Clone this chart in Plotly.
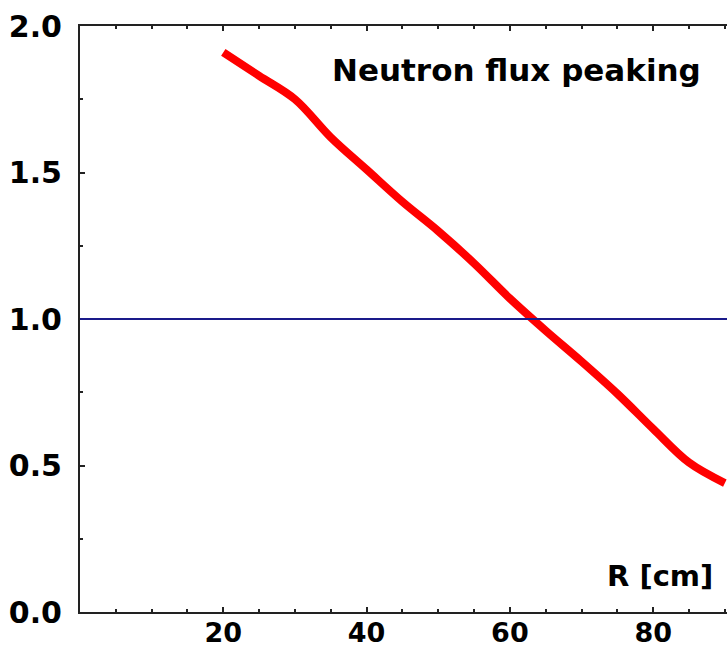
import plotly.graph_objects as go

# Radial position [cm] and the neutron flux peaking factor
radius_cm = [20, 25, 30, 35, 40, 45, 50, 55, 60, 65, 70, 75, 80, 85, 90]
flux_peaking = [1.91, 1.83, 1.75, 1.62, 1.51, 1.40, 1.30, 1.19, 1.07,
                0.96, 0.855, 0.745, 0.625, 0.51, 0.44]

reference_level = 1.0
x_ticks = [20, 40, 60, 80]
y_ticks = [0.0, 0.5, 1.0, 1.5, 2.0]
y_tick_text = ["0.0", "0.5", "1.0", "1.5", "2.0"]

FONT = "DejaVu Sans"

fig = go.Figure()

fig.add_hline(y=reference_level, line=dict(color="#1a1a8a", width=2))

fig.add_trace(go.Scatter(
    x=radius_cm, y=flux_peaking, mode="lines",
    line=dict(color="#ff0000", width=8, shape="spline", smoothing=1.0),
    showlegend=False, hoverinfo="skip",
))

fig.update_xaxes(
    range=[0, 90.3], tickvals=x_ticks, ticktext=[str(v) for v in x_ticks],
    ticks="inside", ticklen=5, tickwidth=1.5, tickcolor="#222",
    showline=True, linecolor="#222", linewidth=2, mirror="ticks",
    showgrid=False, zeroline=False, automargin=False,
    minor=dict(dtick=5, tick0=0, ticks="inside", ticklen=3, tickwidth=1.5, tickcolor="#222"),
    tickfont=dict(family=FONT, size=27, color="black", weight="bold"),
    ticklabelstandoff=-4,
)
fig.update_yaxes(
    range=[0, 2.0], tickvals=y_ticks, ticktext=y_tick_text,
    ticks="inside", ticklen=5, tickwidth=1.5, tickcolor="#222",
    showline=True, linecolor="#222", linewidth=2, mirror=False,
    showgrid=False, zeroline=False, automargin=False,
    minor=dict(dtick=0.25, tick0=0, ticks="inside", ticklen=3, tickwidth=1.5, tickcolor="#222"),
    tickfont=dict(family=FONT, size=30, color="black", weight="bold"),
    ticklabelstandoff=10,
)

fig.add_annotation(
    text="Neutron flux peaking", xref="paper", yref="paper",
    x=0.963, y=0.925, xanchor="right", yanchor="middle", showarrow=False,
    font=dict(family=FONT, size=31, color="black", weight="bold"),
)
fig.add_annotation(
    text="R [cm]", xref="paper", yref="paper",
    x=0.981, y=0.061, xanchor="right", yanchor="middle", showarrow=False,
    font=dict(family=FONT, size=29, color="black", weight="bold"),
)

fig.update_layout(
    width=727, height=653,
    margin=dict(l=80, r=0, t=26, b=41),
    plot_bgcolor="white", paper_bgcolor="white",
)

fig.write_html("out.html")
